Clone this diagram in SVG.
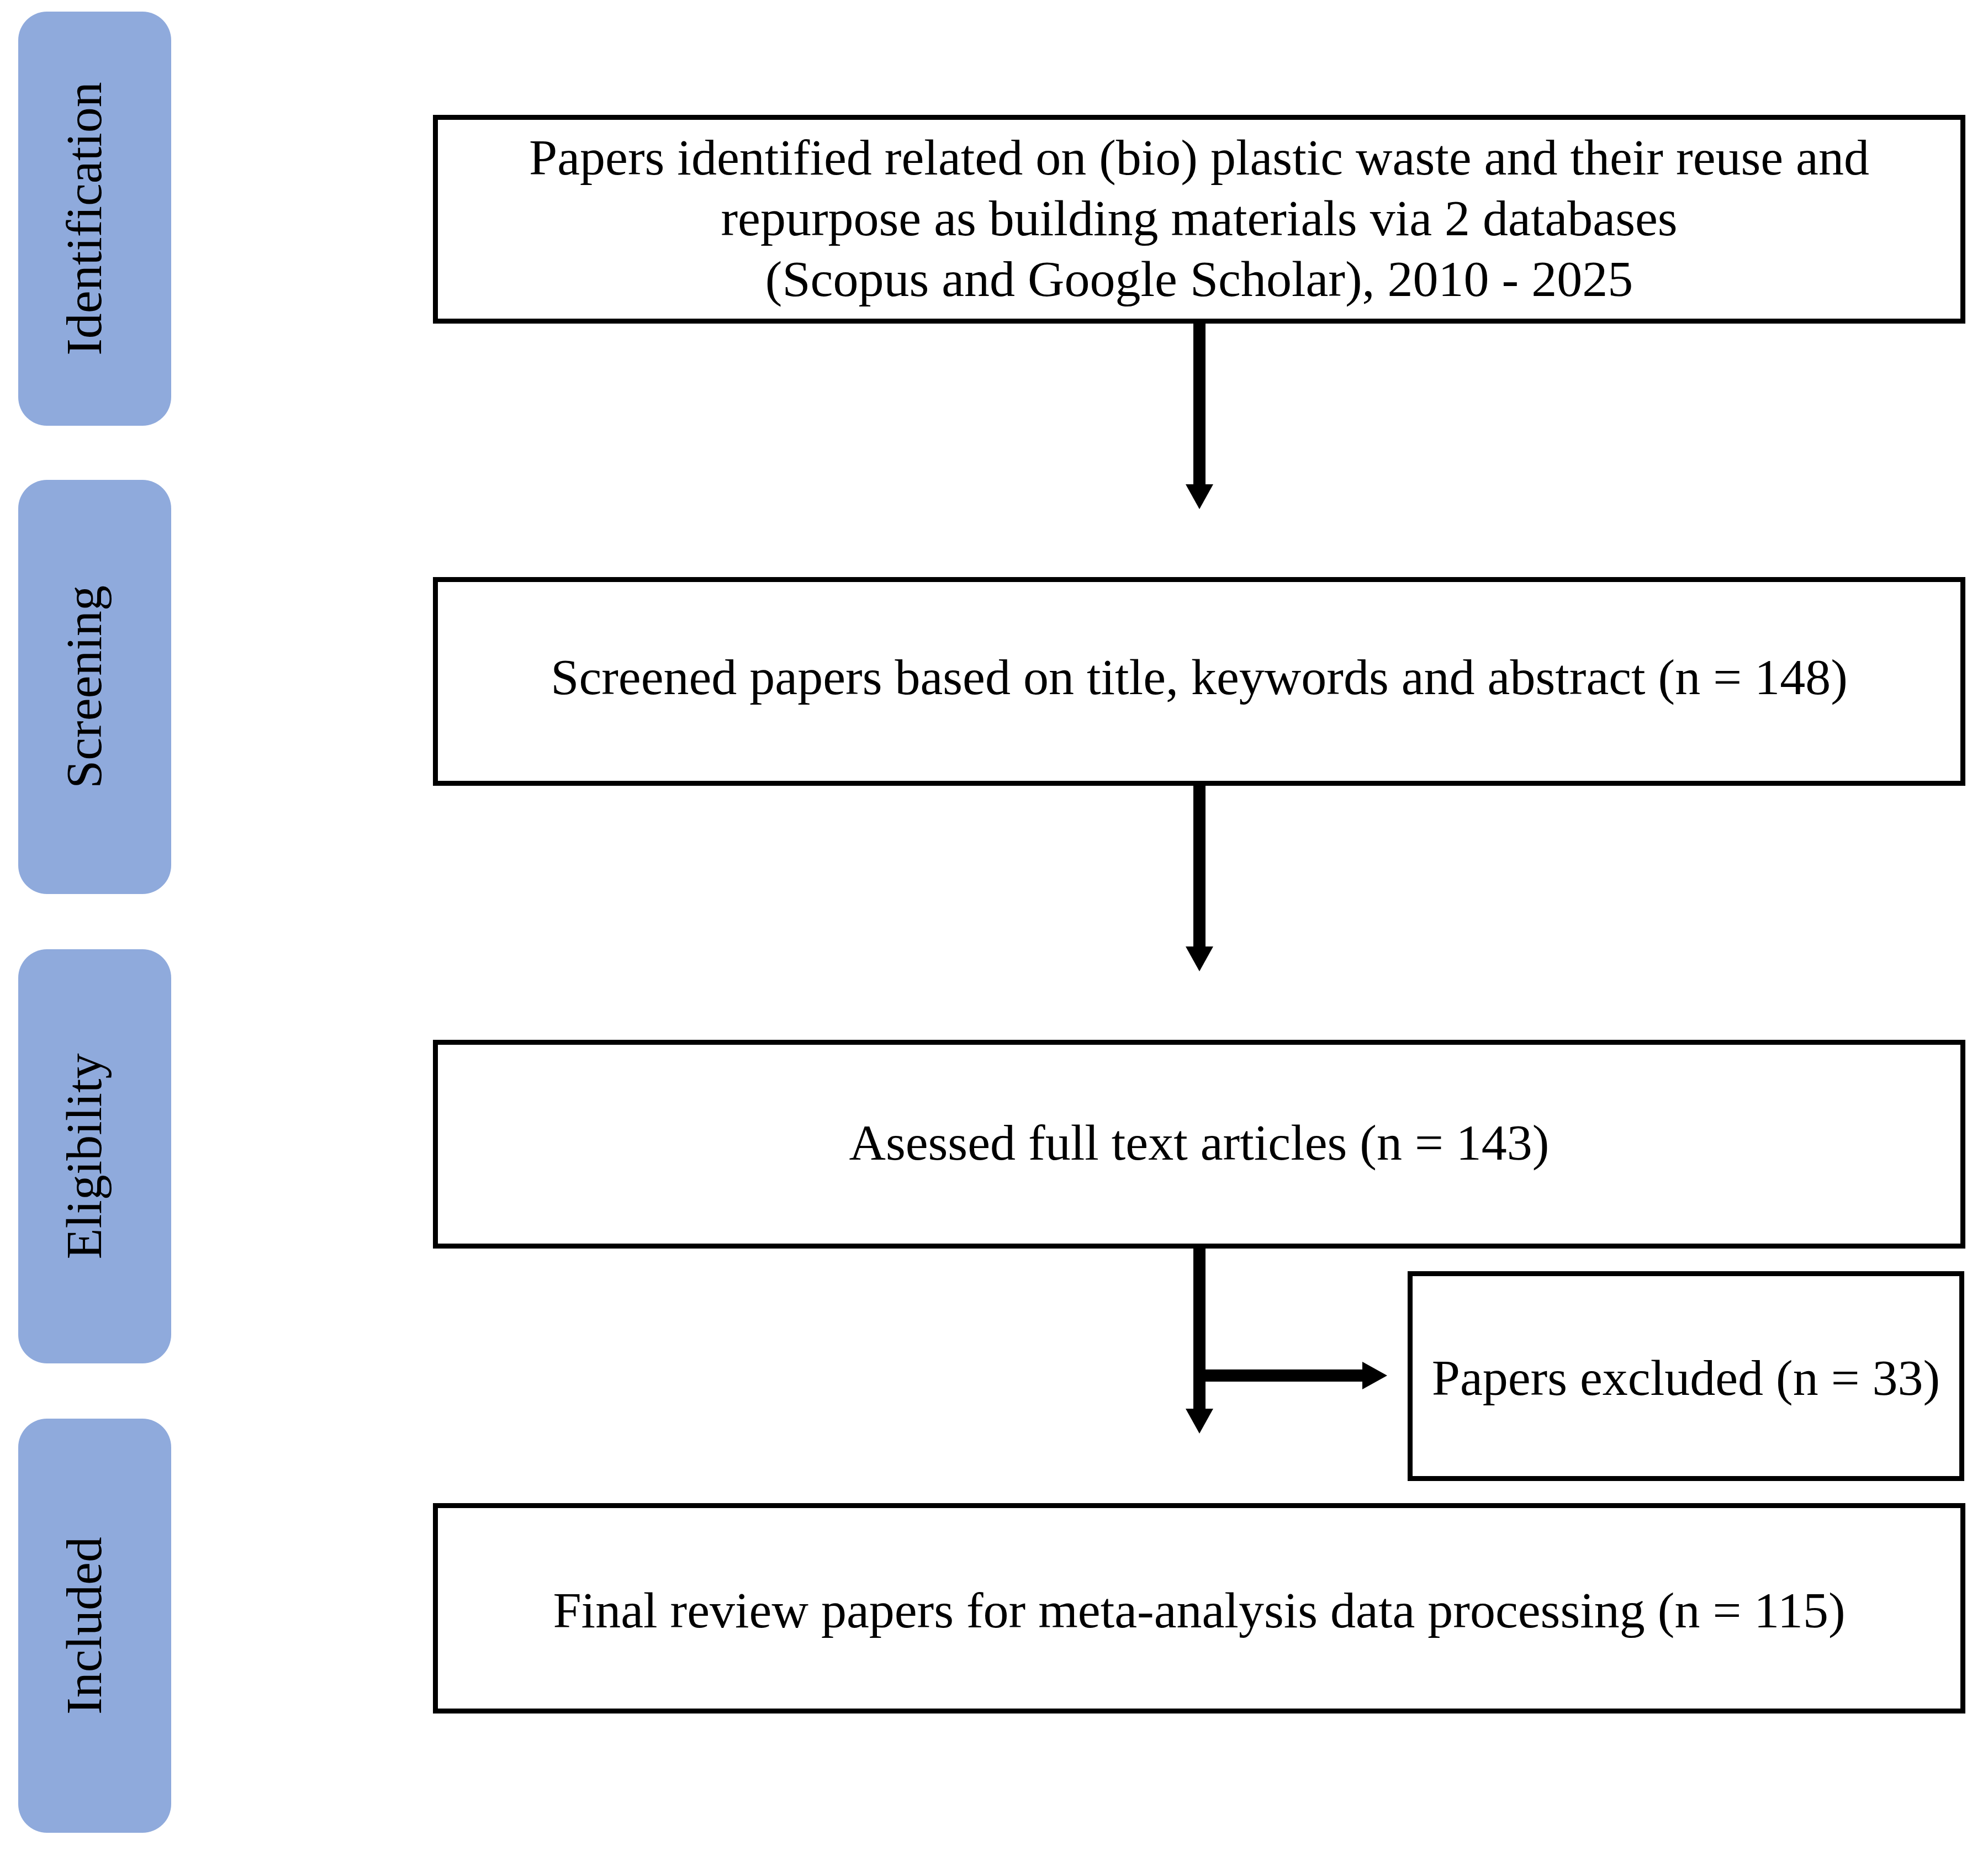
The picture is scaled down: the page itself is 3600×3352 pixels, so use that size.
<svg xmlns="http://www.w3.org/2000/svg" width="3600" height="3352" viewBox="0 0 3600 3352">
<style>
.pill{fill:#8FAADC;}
.box{fill:#FFFFFF;stroke:#000000;stroke-width:9;}
.t{font-family:"Liberation Serif","Times New Roman",serif;font-size:92px;fill:#000000;text-anchor:middle;}
.conn{stroke:#000000;stroke-width:22;fill:none;}
</style>
<defs>
<marker id="ah" markerUnits="userSpaceOnUse" markerWidth="45" markerHeight="50" viewBox="0 0 45 50" refX="0" refY="25" orient="auto">
<path d="M0,0 L45,25 L0,50 Z" fill="#000000"/>
</marker>
</defs>
<rect width="3600" height="3352" fill="#FFFFFF"/>
<g id="stage-identification">
<rect class="pill" x="33" y="21" width="277" height="750" rx="52" ry="52"/>
<text class="t" transform="translate(183,396) rotate(-90)">Identification</text>
</g>
<g id="stage-screening">
<rect class="pill" x="33" y="869" width="277" height="750" rx="52" ry="52"/>
<text class="t" transform="translate(183,1244) rotate(-90)">Screening</text>
</g>
<g id="stage-eligibility">
<rect class="pill" x="33" y="1719" width="277" height="750" rx="52" ry="52"/>
<text class="t" transform="translate(183,2094) rotate(-90)">Eligibility</text>
</g>
<g id="stage-included">
<rect class="pill" x="33" y="2569" width="277" height="750" rx="52" ry="52"/>
<text class="t" transform="translate(183,2944) rotate(-90)">Included</text>
</g>
<g id="box-identified">
<rect class="box" x="788.5" y="212.5" width="2766" height="369"/>
<text class="t" x="2171.5" y="316">Papers identified related on (bio) plastic waste and their reuse and</text>
<text class="t" x="2171.5" y="426">repurpose as building materials via 2 databases</text>
<text class="t" x="2171.5" y="536">(Scopus and Google Scholar), 2010 - 2025</text>
</g>
<g id="box-screened">
<rect class="box" x="788.5" y="1049.5" width="2766" height="369"/>
<text class="t" x="2171.5" y="1257">Screened papers based on title, keywords and abstract (n = 148)</text>
</g>
<g id="box-assessed">
<rect class="box" x="788.5" y="1887.5" width="2766" height="369"/>
<text class="t" x="2171.5" y="2100">Asessed full text articles (n = 143)</text>
</g>
<g id="box-excluded">
<rect class="box" x="2553.5" y="2306.5" width="999" height="371"/>
<text class="t" x="3053" y="2526">Papers excluded (n = 33)</text>
</g>
<g id="box-final">
<rect class="box" x="788.5" y="2726.5" width="2766" height="372"/>
<text class="t" x="2171.5" y="2947">Final review papers for meta-analysis data processing (n = 115)</text>
</g>
<g id="connectors">
<line class="conn" x1="2172" y1="586" x2="2172" y2="877" marker-end="url(#ah)"/>
<line class="conn" x1="2172" y1="1423" x2="2172" y2="1714" marker-end="url(#ah)"/>
<line class="conn" x1="2172" y1="2261" x2="2172" y2="2551" marker-end="url(#ah)"/>
<line class="conn" x1="2161" y1="2491" x2="2467" y2="2491" marker-end="url(#ah)"/>
</g>
</svg>
